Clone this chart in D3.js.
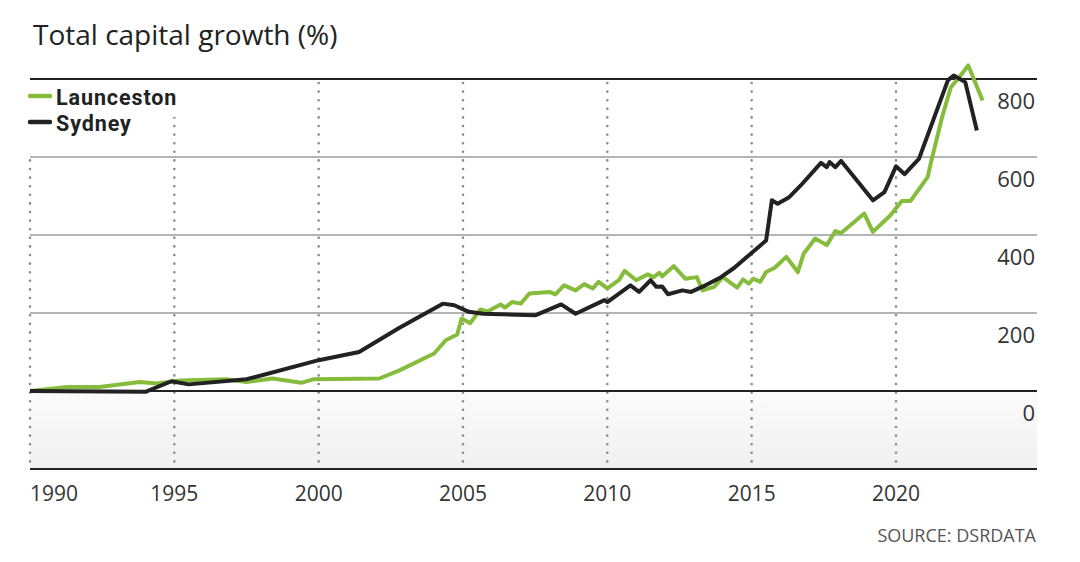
<!DOCTYPE html>
<html>
<head>
<meta charset="utf-8">
<script src="https://cdn.jsdelivr.net/npm/d3@7"></script>
<style>
  body { margin: 0; background: #fff; }
  svg { display: block; font-family: "Open Sans", "Noto Sans", sans-serif; }
</style>
</head>
<body>
<div id="chart"></div>
<script>
//Values (decimal years)
var launcestonYears = [1990, 1991.3, 1992.4, 1993.8, 1994.4, 1995.2, 1996.8, 1997.5, 1998.4, 1999.4, 1999.8, 2002.1, 2002.8, 2004.0, 2004.4, 2004.8, 2004.95, 2005.25, 2005.6, 2005.85, 2006.3, 2006.45, 2006.7, 2007.0, 2007.3, 2008.0, 2008.2, 2008.5, 2008.9, 2009.2, 2009.5, 2009.7, 2010.0, 2010.4, 2010.6, 2011.0, 2011.4, 2011.6, 2011.8, 2011.9, 2012.3, 2012.7, 2013.1, 2013.3, 2013.7, 2014.0, 2014.5, 2014.7, 2014.9, 2015.05, 2015.3, 2015.5, 2015.8, 2016.2, 2016.6, 2016.8, 2017.2, 2017.6, 2017.9, 2018.1, 2018.9, 2019.2, 2019.8, 2020.2, 2020.5, 2021.1, 2021.2, 2021.6, 2021.9, 2022.2, 2022.5, 2023.0];
var launcestonValues = [0, 10, 10, 23, 19, 27, 30, 23, 32, 21, 30, 32, 53, 96, 130, 145, 186, 174, 209, 204, 222, 214, 228, 224, 250, 254, 248, 271, 258, 274, 263, 280, 263, 284, 308, 284, 299, 292, 303, 294, 320, 288, 292, 258, 267, 292, 265, 286, 275, 288, 280, 305, 316, 344, 305, 352, 391, 374, 410, 405, 455, 408, 450, 487, 487, 549, 583, 703, 779, 805, 835, 745];

var sydneyYears = [1990, 1994.0, 1994.9, 1995.5, 1997.5, 2000.0, 2001.4, 2002.8, 2004.3, 2004.7, 2005.2, 2005.7, 2007.5, 2008.4, 2008.9, 2009.9, 2010.0, 2010.8, 2011.1, 2011.5, 2011.7, 2011.9, 2012.1, 2012.6, 2012.9, 2013.4, 2013.9, 2014.4, 2015.5, 2015.7, 2015.9, 2016.3, 2016.7, 2017.4, 2017.6, 2017.7, 2017.9, 2018.1, 2019.2, 2019.6, 2020.0, 2020.3, 2020.8, 2021.8, 2022.0, 2022.4, 2022.8];
var sydneyValues = [0, -2, 25, 17, 30, 79, 100, 162, 224, 220, 203, 198, 194, 222, 198, 233, 228, 271, 254, 284, 267, 268, 248, 258, 254, 271, 290, 316, 386, 489, 480, 497, 527, 585, 574, 587, 574, 590, 489, 510, 576, 556, 596, 797, 809, 792, 668];

var xTicks = [1990, 1995, 2000, 2005, 2010, 2015, 2020];
var yTicks = [0, 200, 400, 600, 800];
var seriesNames = ["Launceston", "Sydney"];
var seriesColors = ["#86bc3c", "#222222"];

var width = 1080, height = 562;
var plotLeft = 30, plotRight = 1037;

var svg = d3.select("#chart").append("svg")
	.attr("width", width)
	.attr("height", height);

//Scales
var x = d3.scaleLinear().domain([1990, 2020]).range([30, 896]);
var y = d3.scaleLinear().domain([-200, 800]).range([469, 79]);

//Light gradient below zero
var grad = svg.append("defs").append("linearGradient")
	.attr("id", "below")
	.attr("x1", 0).attr("y1", 0).attr("x2", 0).attr("y2", 1);
grad.append("stop").attr("offset", "0%").attr("stop-color", "#fbfbfb");
grad.append("stop").attr("offset", "100%").attr("stop-color", "#f0f0f0");

svg.append("rect")
	.attr("x", plotLeft)
	.attr("y", y(0))
	.attr("width", plotRight - plotLeft)
	.attr("height", y(-200) - y(0))
	.attr("fill", "url(#below)");

//Dotted vertical lines
svg.append("g").selectAll("line")
	.data(xTicks)
	.join("line")
	.attr("x1", function(d){ return x(d); })
	.attr("x2", function(d){ return x(d); })
	.attr("y1", y(800) + 4)
	.attr("y2", y(-200))
	.attr("stroke", "#8a8a8a")
	.attr("stroke-width", 2.6)
	.attr("stroke-linecap", "round")
	.attr("stroke-dasharray", "0,8.6");

//Horizontal grid
svg.append("g").selectAll("line")
	.data(yTicks.concat([-200]))
	.join("line")
	.attr("x1", plotLeft)
	.attr("x2", plotRight)
	.attr("y1", function(d){ return y(d); })
	.attr("y2", function(d){ return y(d); })
	.attr("stroke", function(d){ return (d == 0 || d == -200 || d == 800) ? "#222" : "#9b9b9b"; })
	.attr("stroke-width", function(d){ return (d == 0 || d == -200 || d == 800) ? 2 : 1.6; });

//White box behind the legend
svg.append("rect").attr("x", 20).attr("y", y(800) + 2).attr("width", 150).attr("height", y(600) - y(800) - 3).attr("fill", "#fff");
svg.append("rect").attr("x", 20).attr("y", y(800) + 2).attr("width", 165).attr("height", 36).attr("fill", "#fff");

//Y labels, sitting under each line
svg.append("g").selectAll("text")
	.data(yTicks)
	.join("text")
	.attr("x", 1035)
	.attr("y", function(d){ return y(d) + 30; })
	.attr("text-anchor", "end")
	.attr("font-size", "22px")
	.attr("fill", "#333")
	.text(function(d){ return d; });

//X labels
svg.append("g").selectAll("text")
	.data(xTicks)
	.join("text")
	.attr("x", function(d){ return x(d); })
	.attr("y", 501)
	.attr("text-anchor", function(d, i){ return i == 0 ? "start" : "middle"; })
	.attr("font-size", "21px")
	.attr("fill", "#333")
	.text(function(d){ return d; });

//Lines
var line = d3.line()
	.x(function(d){ return x(d.t); })
	.y(function(d){ return y(d.v); });

var launceston = launcestonYears.map(function(t, i){ return {t: t, v: launcestonValues[i]}; });
var sydney = sydneyYears.map(function(t, i){ return {t: t, v: sydneyValues[i]}; });

svg.append("path")
	.datum(launceston)
	.attr("fill", "none")
	.attr("stroke", seriesColors[0])
	.attr("stroke-width", 4)
	.attr("stroke-linejoin", "round")
	.attr("d", line);

svg.append("path")
	.datum(sydney)
	.attr("fill", "none")
	.attr("stroke", seriesColors[1])
	.attr("stroke-width", 4)
	.attr("stroke-linejoin", "round")
	.attr("d", line);

//Legend
for (var i = 0; i < seriesNames.length; i++)
{
	svg.append("line")
		.attr("x1", 30).attr("x2", 50)
		.attr("y1", 96 + i * 26).attr("y2", 96 + i * 26)
		.attr("stroke", seriesColors[i])
		.attr("stroke-width", 4.5)
		.attr("stroke-linecap", "round");
	svg.append("text")
		.attr("x", 56)
		.attr("y", 105 + i * 25.5)
		.attr("font-family", "Roboto, sans-serif")
		.attr("font-size", "21.5px")
		.attr("font-weight", "bold")
		.attr("letter-spacing", "0.9px")
		.attr("fill", "#222")
		.text(seriesNames[i]);
}

//Title and source
svg.append("text")
	.attr("x", 33)
	.attr("y", 45)
	.attr("font-size", "28px")
	.attr("fill", "#222")
	.text("Total capital growth (%)");

svg.append("text")
	.attr("x", 1036)
	.attr("y", 542)
	.attr("text-anchor", "end")
	.attr("font-size", "18px")
	.attr("fill", "#555")
	.text("SOURCE: DSRDATA");
</script>
</body>
</html>
